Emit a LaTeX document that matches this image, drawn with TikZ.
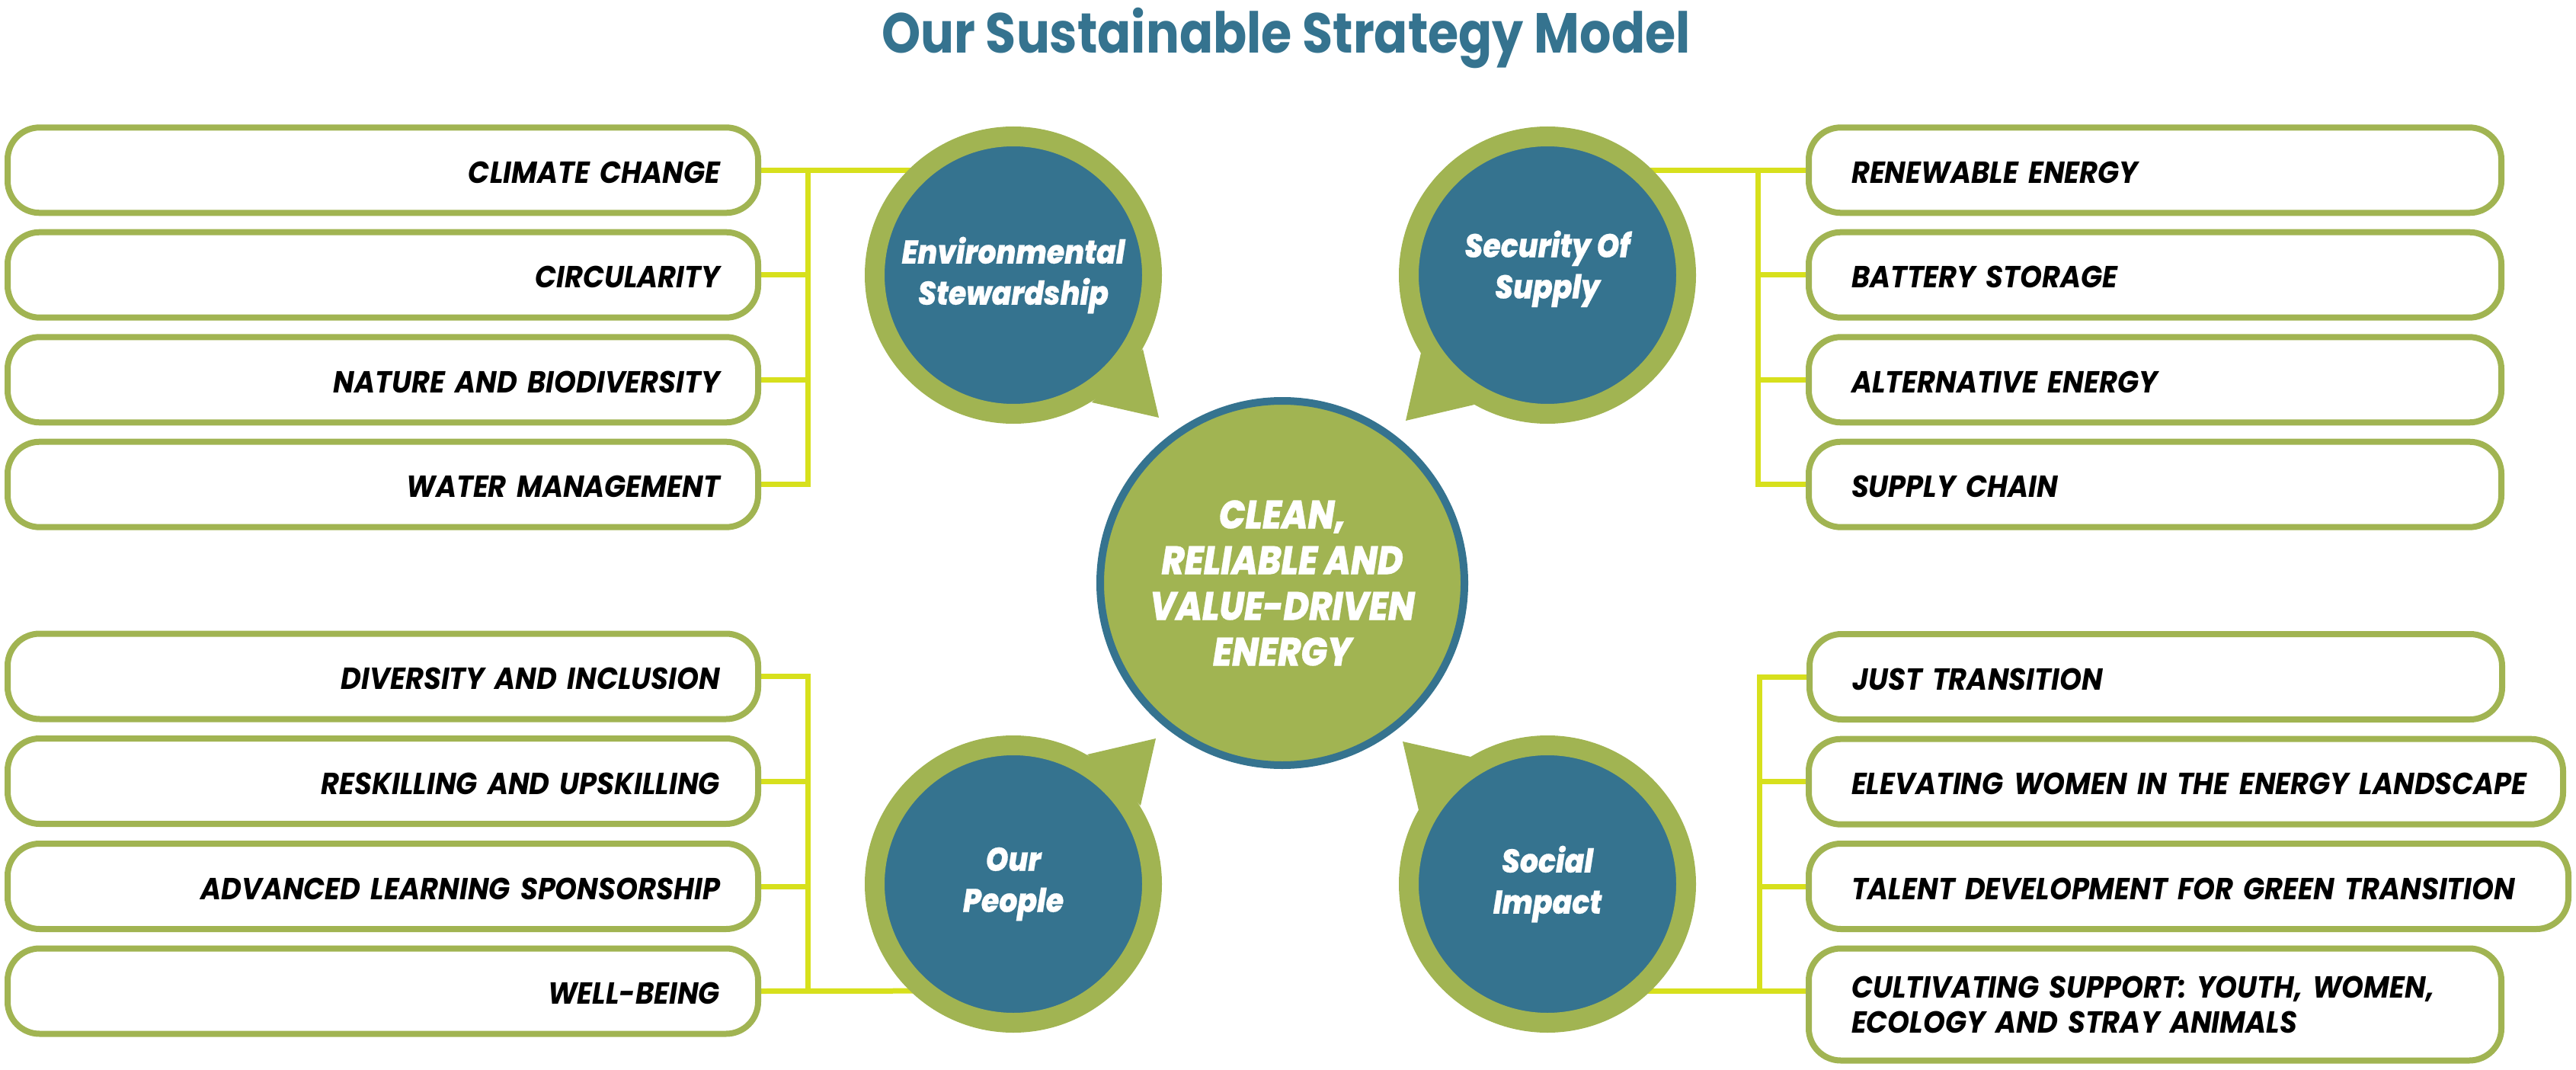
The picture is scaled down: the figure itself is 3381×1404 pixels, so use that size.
\documentclass[tikz,border=0pt]{standalone}
\usepackage{fontspec}
\setmainfont{Poppins}
\newfontfamily\boxfont{Poppins}[FakeStretch=0.92]
\newfontfamily\titlefont{Poppins}[FakeStretch=0.88]
\newfontfamily\headfont{Poppins}[FakeStretch=0.88, BoldItalicFont={Poppins ExtraBold Italic}, BoldItalicFeatures={FakeBold=0.6}]
\usetikzlibrary{calc,backgrounds}
\definecolor{grn}{HTML}{A1B452}
\definecolor{blu}{HTML}{35738F}
\definecolor{ylw}{HTML}{D7E01C}
\begin{document}
\begin{tikzpicture}[x=1pt,y=-1pt,
  item/.style={draw=grn, line width=8pt, fill=white, rounded corners=42pt,
    minimum height=112pt, inner ysep=0pt, text height=34pt, text depth=0pt,
    font=\boxfont\fontsize{40}{46}\selectfont\bfseries\itshape},
  litem/.style={item, text width=885pt, inner xsep=50pt, align=right},
  ritem/.style={item, inner xsep=56pt, align=left},
  bubble/.style={circle, fill=blu, draw=grn, line width=26pt, minimum size=364pt,
    inner sep=0pt, text=white, align=center,
    font=\headfont\fontsize{43}{54}\selectfont\bfseries\itshape},
  tail/.style={fill=grn},
  core/.style={circle, fill=grn, draw=blu, line width=10pt, minimum size=478pt,
    inner sep=0pt, text=white, align=center,
    font=\headfont\fontsize{52}{60}\selectfont\bfseries\itshape},
  conn/.style={draw=ylw, line width=7pt, line cap=rect},
  heading/.style={text=blu, font=\titlefont\fontsize{74}{80}\selectfont\bfseries}
]
\useasboundingbox (0,0) rectangle (3381,1404);

\node[heading] (title) at (1688,50) {Our Sustainable Strategy Model};

% left top boxes
\node[litem] (lt1) at (502.5,223.3) {\mbox{CLIMATE CHANGE}};
\node[litem] (lt2) at (502.5,360.7) {\mbox{CIRCULARITY}};
\node[litem] (lt3) at (502.5,498.3) {\mbox{NATURE AND BIODIVERSITY}};
\node[litem] (lt4) at (502.5,635.7) {\mbox{WATER MANAGEMENT}};
% left bottom boxes
\node[litem] (lb1) at (502.5,887.5) {\mbox{DIVERSITY AND INCLUSION}};
\node[litem] (lb2) at (502.5,1025) {\mbox{RESKILLING AND UPSKILLING}};
\node[litem] (lb3) at (502.5,1163) {\mbox{ADVANCED LEARNING SPONSORSHIP}};
\node[litem] (lb4) at (502.5,1300.5) {\mbox{WELL-BEING}};
% right top boxes
\node[ritem, text width=797pt] (rt1) at (2828.5,223.3) {\mbox{RENEWABLE ENERGY}};
\node[ritem, text width=797pt] (rt2) at (2828.5,360.7) {\mbox{BATTERY STORAGE}};
\node[ritem, text width=797pt] (rt3) at (2828.5,498.3) {\mbox{ALTERNATIVE ENERGY}};
\node[ritem, text width=797pt] (rt4) at (2828.5,635.7) {\mbox{SUPPLY CHAIN}};
% right bottom boxes
\node[ritem, text width=797pt] (rb1) at (2829.5,888) {\mbox{JUST TRANSITION}};
\node[ritem, text width=878pt] (rb2) at (2869,1025.7) {\mbox{ELEVATING WOMEN IN THE ENERGY LANDSCAPE}};
\node[ritem, text width=885pt] (rb3) at (2872.5,1163) {\mbox{TALENT DEVELOPMENT FOR GREEN TRANSITION}};
\node[ritem, text width=797pt, minimum height=147pt, text height=, text depth=] (rb4) at (2828.5,1318)
  {CULTIVATING SUPPORT: YOUTH, WOMEN,\\ECOLOGY AND STRAY ANIMALS};

% circles
\node[core] (core) at (1683,765) {CLEAN,\\RELIABLE AND\\VALUE-DRIVEN\\ENERGY};
\node[bubble] (env) at (1330,361) {Environmental\\Stewardship};
\node[bubble] (sec) at (2031,361) {Security Of\\Supply\rule[-28pt]{0pt}{1pt}};
\node[bubble] (ppl) at (1330,1160) {Our\\People};
\node[bubble] (soc) at (2031,1160) {Social\\Impact};

\coordinate (ltT) at (1060,223.3);
\coordinate (ltB) at (1060,635.7);
\coordinate (lbT) at (1060,887.5);
\coordinate (lbB) at (1060,1300);
\coordinate (rtT) at (2307,223.3);
\coordinate (rtB) at (2307,635.7);
\coordinate (rbT) at (2309,888);
\coordinate (rbB) at (2309,1300);

\begin{scope}[on background layer]
  % tails
  \fill[tail] ($(env.center)+(170,97)$) -- ($(env.center)+(191,187)$) -- ($(env.center)+(103,167)$) -- cycle;
  \fill[tail] ($(sec.center)+(-166,102)$) -- ($(sec.center)+(-186,191)$) -- ($(sec.center)+(-96,170)$) -- cycle;
  \fill[tail] ($(ppl.center)+(97,-170)$) -- ($(ppl.center)+(187,-191)$) -- ($(ppl.center)+(167,-103)$) -- cycle;
  \fill[tail] ($(soc.center)+(-101,-167)$) -- ($(soc.center)+(-190,-187)$) -- ($(soc.center)+(-169,-97)$) -- cycle;
  % left top
  \draw[conn] (lt1.east) -- (env.center |- lt1.east);
  \draw[conn] (ltT) -- (ltB);
  \draw[conn] (lt2.east) -- (lt2.east -| ltT);
  \draw[conn] (lt3.east) -- (lt3.east -| ltT);
  \draw[conn] (lt4.east) -- (lt4.east -| ltT);
  % left bottom
  \draw[conn] (lb4.east) -- (ppl.center |- lbB);
  \draw[conn] (lbT) -- (lbB);
  \draw[conn] (lb1.east) -- (lb1.east -| lbT);
  \draw[conn] (lb2.east) -- (lb2.east -| lbT);
  \draw[conn] (lb3.east) -- (lb3.east -| lbT);
  % right top
  \draw[conn] (sec.center |- rt1.west) -- (rt1.west);
  \draw[conn] (rtT) -- (rtB);
  \draw[conn] (rt2.west -| rtT) -- (rt2.west);
  \draw[conn] (rt3.west -| rtT) -- (rt3.west);
  \draw[conn] (rt4.west -| rtT) -- (rt4.west);
  % right bottom
  \draw[conn] (soc.center |- rbB) -- (rbB -| rb4.west);
  \draw[conn] (rbT) -- (rbB);
  \draw[conn] (rb1.west -| rbT) -- (rb1.west);
  \draw[conn] (rb2.west -| rbT) -- (rb2.west);
  \draw[conn] (rb3.west -| rbT) -- (rb3.west);
\end{scope}
\end{tikzpicture}
\end{document}
